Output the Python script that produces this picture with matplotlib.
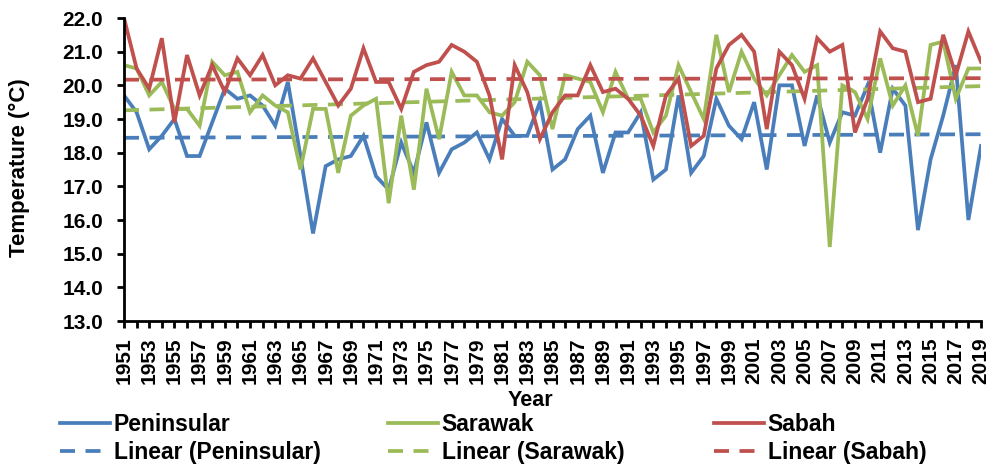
import numpy as np
import matplotlib.pyplot as plt

plt.rcParams['font.family'] = ['Liberation Sans', 'DejaVu Sans']
plt.rcParams['font.weight'] = 'bold'

# Data
years = np.arange(1951, 2020)
peninsular = [19.7, 19.2, 18.1, 18.5, 19.0, 17.9, 17.9, 18.9, 19.9, 19.6,
              19.7, 19.4, 18.8, 20.1, 17.9, 15.6, 17.6, 17.8, 17.9, 18.5,
              17.3, 16.9, 18.3, 17.4, 18.9, 17.4, 18.1, 18.3, 18.6, 17.8,
              19.0, 18.5, 18.5, 19.5, 17.5, 17.8, 18.7, 19.1, 17.4, 18.6,
              18.6, 19.2, 17.2, 17.5, 19.7, 17.4, 17.9, 19.6, 18.8, 18.4,
              19.5, 17.5, 20.0, 20.0, 18.2, 19.7, 18.3, 19.2, 19.1, 20.0,
              18.0, 19.9, 19.4, 15.7, 17.8, 19.1, 20.6, 16.0, 18.2]
sarawak = [20.6, 20.5, 19.7, 20.1, 19.3, 19.3, 18.8, 20.7, 20.3, 20.4,
           19.2, 19.7, 19.4, 19.2, 17.5, 19.3, 19.3, 17.4, 19.1, 19.4,
           19.6, 16.5, 19.1, 16.9, 19.9, 18.4, 20.4, 19.7, 19.7, 19.2,
           19.1, 19.5, 20.7, 20.3, 18.7, 20.3, 20.2, 20.1, 19.2, 20.4,
           19.6, 19.6, 18.6, 19.1, 20.6, 19.8, 19.0, 21.5, 19.8, 21.0,
           20.2, 19.7, 20.3, 20.9, 20.4, 20.6, 15.2, 20.0, 19.8, 19.0,
           20.8, 19.4, 20.0, 18.5, 21.2, 21.3, 19.6, 20.5, 20.5]
sabah = [22.0, 20.5, 19.9, 21.4, 18.9, 20.9, 19.7, 20.6, 19.8, 20.8,
         20.3, 20.9, 20.0, 20.3, 20.2, 20.8, 20.1, 19.4, 19.9, 21.1,
         20.1, 20.1, 19.3, 20.4, 20.6, 20.7, 21.2, 21.0, 20.7, 19.7,
         17.8, 20.6, 19.8, 18.4, 19.2, 19.7, 19.7, 20.6, 19.8, 19.9,
         19.6, 19.1, 18.2, 19.7, 20.2, 18.2, 18.5, 20.5, 21.2, 21.5,
         21.0, 18.7, 21.0, 20.6, 19.6, 21.4, 21.0, 21.2, 18.6, 19.6,
         21.6, 21.1, 21.0, 19.5, 19.6, 21.5, 20.3, 21.6, 20.7]

names = ['Peninsular', 'Sarawak', 'Sabah']
colors = ['#4A7EBB', '#9BBB59', '#C0504D']

fig = plt.figure(figsize=(9.91, 4.68), dpi=100)
ax = fig.add_axes([124/991, 1 - 321/468, (981 - 124)/991, (321 - 18)/468])

handles = []
for name, vals, c in zip(names, [peninsular, sarawak, sabah], colors):
    ln, = ax.plot(years, vals, color=c, lw=2.7, solid_joinstyle='miter')
    k, b = np.polyfit(years, vals, 1)
    tr, = ax.plot(years, k * years + b, color=c, lw=2.7, dashes=(4.0, 2.8))
    handles.append((ln, tr, name))

ax.set_xlim(1951, 2019)
ax.set_ylim(13, 22)
ax.set_yticks(np.arange(13, 22.5, 1))
ax.set_yticklabels(['%.1f' % v for v in np.arange(13, 22.5, 1)], fontsize=15)
ax.set_xticks(years)
ax.set_xticklabels([str(y) if (y - 1951) % 2 == 0 else '' for y in years],
                   rotation=90, fontsize=15)
ax.tick_params(axis='both', direction='out', length=5, width=2, color='black')
ax.tick_params(axis='y', pad=10)
ax.tick_params(axis='x', pad=7)
for s in ['top', 'right']:
    ax.spines[s].set_visible(False)
for s in ['left', 'bottom']:
    ax.spines[s].set_linewidth(2)
    ax.spines[s].set_color('black')

fig.text(19/991, 1 - 168/468, 'Temperature (°C)', rotation=90,
         ha='center', va='center', fontsize=16)
fig.text(530/991, 1 - 401/468, 'Year', ha='center', va='center', fontsize=15.5)

# legend: one column per region, solid line over its trend line
xs = [60, 388, 714]
for (ln, tr, name), x in zip(handles, xs):
    fig.legend([ln, tr], [name, 'Linear (' + name + ')'],
               loc='upper left', bbox_to_anchor=(x/991, 1 - 413/468),
               frameon=False, fontsize=16.5, handlelength=2.2,
               handletextpad=0.15, labelspacing=0.2, borderpad=0,
               borderaxespad=0)

fig.savefig('out.png', dpi=100)
